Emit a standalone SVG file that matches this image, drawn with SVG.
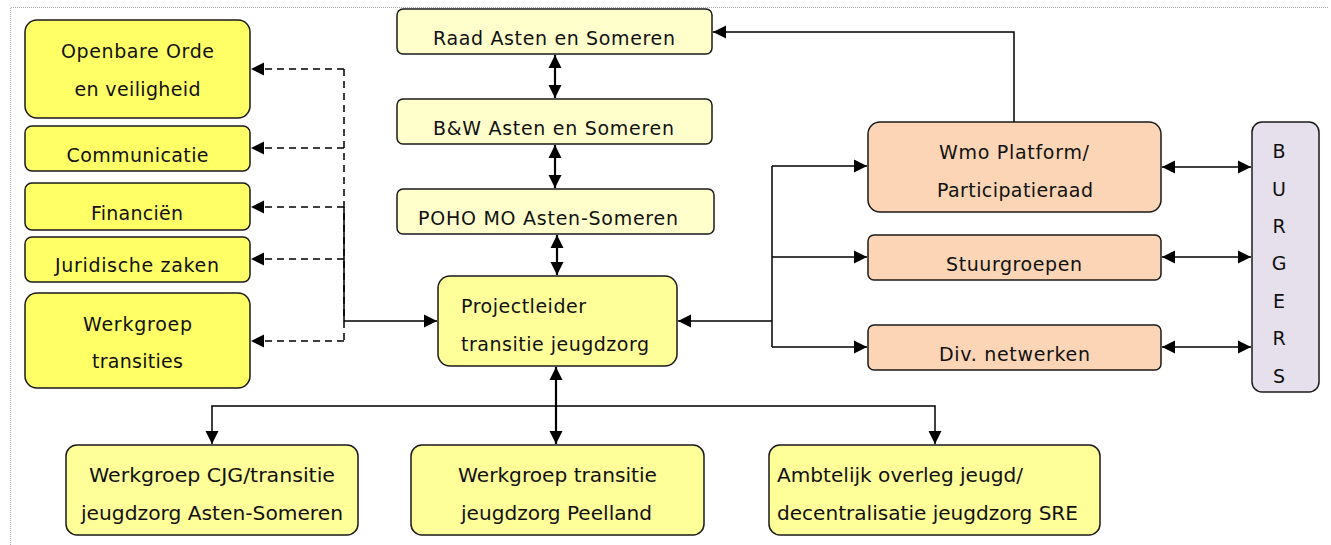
<svg xmlns="http://www.w3.org/2000/svg" width="1331" height="545" viewBox="0 0 1331 545">
<style>
.box{stroke:#1a1a1a;stroke-width:1.5}
.y1{fill:#FFFF66}
.y2{fill:#FFFFCC}
.y3{fill:#FFFF99}
.or{fill:#FBD5B5}
.lv{fill:#E5E0EC}
text{font-family:"DejaVu Sans",Verdana,sans-serif;font-size:19px;fill:#111}
.m{text-anchor:middle}
.b{font-size:20px}
.c{fill:none;stroke:#000;stroke-width:1.5}
.d{stroke-dasharray:7 5}
.t{stroke-width:2.2}
.border{fill:none;stroke:#aaa;stroke-width:1;stroke-dasharray:1 1}
</style>
<defs>
<marker id="ah" markerUnits="userSpaceOnUse" markerWidth="14" markerHeight="14" refX="13" refY="7" orient="auto-start-reverse" viewBox="0 0 14 14">
<path d="M0,0.5 L13,7 L0,13.5 z" fill="#000"/>
</marker>
</defs>
<path class="border" d="M10.5,545 V7.5 H1328"/>
<g id="connectors">
<path class="c d" d="M344,69 V341"/>
<path class="c d" d="M344,69 H251" marker-end="url(#ah)"/>
<path class="c d" d="M344,148 H251" marker-end="url(#ah)"/>
<path class="c d" d="M344,207 H251" marker-end="url(#ah)"/>
<path class="c d" d="M344,259 H251" marker-end="url(#ah)"/>
<path class="c d" d="M344,341 H251" marker-end="url(#ah)"/>
<path class="c" d="M344,207 V321 H437" marker-end="url(#ah)"/>
<path class="c t" d="M555,55 V98" marker-start="url(#ah)" marker-end="url(#ah)"/>
<path class="c t" d="M555,145 V188" marker-start="url(#ah)" marker-end="url(#ah)"/>
<path class="c t" d="M557,235 V275" marker-start="url(#ah)" marker-end="url(#ah)"/>
<path class="c t" d="M556,367 V444" marker-start="url(#ah)" marker-end="url(#ah)"/>
<path class="c" d="M212,444 V406 H935 V444" marker-start="url(#ah)" marker-end="url(#ah)"/>
<path class="c" d="M1014,122 V32 H713" marker-end="url(#ah)"/>
<path class="c" d="M772,321 H678" marker-end="url(#ah)"/>
<path class="c" d="M772,166 V347"/>
<path class="c" d="M772,166 H867" marker-end="url(#ah)"/>
<path class="c" d="M772,257 H867" marker-end="url(#ah)"/>
<path class="c" d="M772,347 H867" marker-end="url(#ah)"/>
<path class="c" d="M1162,167 H1251" marker-start="url(#ah)" marker-end="url(#ah)"/>
<path class="c" d="M1162,257 H1251" marker-start="url(#ah)" marker-end="url(#ah)"/>
<path class="c" d="M1162,347 H1251" marker-start="url(#ah)" marker-end="url(#ah)"/>
</g>
<g id="openbare-orde">
<rect class="box y1" x="25" y="20" width="225" height="98" rx="12"/>
<text class="m" x="137.5" y="58" textLength="153">Openbare Orde</text>
<text class="m" x="137.5" y="96" textLength="126">en veiligheid</text>
</g>
<g id="communicatie">
<rect class="box y1" x="25" y="126" width="225" height="45" rx="7"/>
<text class="m" x="137.5" y="162" textLength="142">Communicatie</text>
</g>
<g id="financien">
<rect class="box y1" x="25" y="183" width="225" height="47" rx="7"/>
<text class="m" x="137" y="220" textLength="92">Financiën</text>
</g>
<g id="juridische-zaken">
<rect class="box y1" x="25" y="237" width="225" height="45" rx="7"/>
<text class="m" x="137" y="272" textLength="164">Juridische zaken</text>
</g>
<g id="werkgroep-transities">
<rect class="box y1" x="25" y="293" width="225" height="95" rx="12"/>
<text class="m" x="137.5" y="331" textLength="109">Werkgroep</text>
<text class="m" x="137.5" y="368" textLength="91">transities</text>
</g>
<g id="raad">
<rect class="box y2" x="397" y="9" width="315" height="45" rx="6"/>
<text class="m" x="554" y="45" textLength="242">Raad Asten en Someren</text>
</g>
<g id="bw">
<rect class="box y2" x="397" y="99" width="315" height="45" rx="6"/>
<text class="m" x="553.5" y="135" textLength="241">B&amp;W Asten en Someren</text>
</g>
<g id="poho">
<rect class="box y2" x="397" y="189" width="317" height="45" rx="6"/>
<text x="418" y="225" textLength="260">POHO MO Asten-Someren</text>
</g>
<g id="projectleider">
<rect class="box y3" x="438" y="276" width="239" height="90" rx="12"/>
<text x="461" y="313" textLength="125">Projectleider</text>
<text x="461" y="351" textLength="188">transitie jeugdzorg</text>
</g>
<g id="wmo">
<rect class="box or" x="868" y="122" width="293" height="90" rx="12"/>
<text class="m" x="1014" y="159" textLength="150">Wmo Platform/</text>
<text class="m" x="1015" y="197" textLength="156">Participatieraad</text>
</g>
<g id="stuurgroepen">
<rect class="box or" x="868" y="235" width="293" height="45" rx="6"/>
<text class="m" x="1014" y="271" textLength="136">Stuurgroepen</text>
</g>
<g id="netwerken">
<rect class="box or" x="868" y="325" width="293" height="45" rx="6"/>
<text class="m" x="1014.5" y="361" textLength="151">Div. netwerken</text>
</g>
<g id="burgers">
<rect class="box lv" x="1252" y="122" width="67" height="270" rx="10"/>
<text class="m" x="1279" y="158">B</text>
<text class="m" x="1279" y="195.5">U</text>
<text class="m" x="1279" y="233">R</text>
<text class="m" x="1279" y="270">G</text>
<text class="m" x="1279" y="307.5">E</text>
<text class="m" x="1279" y="345">R</text>
<text class="m" x="1279" y="382.5">S</text>
</g>
<g id="werkgroep-cjg">
<rect class="box y3" x="66" y="445" width="292" height="90" rx="11"/>
<text class="m b" x="212" y="482" textLength="246" lengthAdjust="spacingAndGlyphs">Werkgroep CJG/transitie</text>
<text class="m b" x="212" y="520" textLength="262" lengthAdjust="spacingAndGlyphs">jeugdzorg Asten-Someren</text>
</g>
<g id="werkgroep-peelland">
<rect class="box y3" x="411" y="445" width="293" height="90" rx="11"/>
<text class="m b" x="557.5" y="482" textLength="199" lengthAdjust="spacingAndGlyphs">Werkgroep transitie</text>
<text class="m b" x="556.5" y="520" textLength="191" lengthAdjust="spacingAndGlyphs">jeugdzorg Peelland</text>
</g>
<g id="ambtelijk-overleg">
<rect class="box y3" x="769" y="445" width="331" height="90" rx="11"/>
<text class="b" x="777" y="482" textLength="246" lengthAdjust="spacingAndGlyphs">Ambtelijk overleg jeugd/</text>
<text class="b" x="777" y="520" textLength="301" lengthAdjust="spacingAndGlyphs">decentralisatie jeugdzorg SRE</text>
</g>
</svg>
